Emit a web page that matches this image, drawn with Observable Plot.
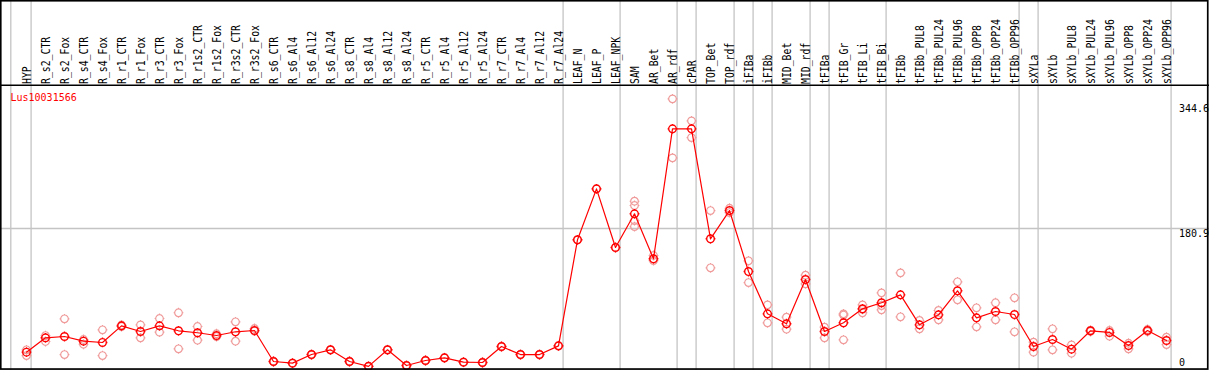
<!DOCTYPE html>
<html><head><meta charset="utf-8">
<script src="https://cdn.jsdelivr.net/npm/d3@7"></script>
<script src="https://cdn.jsdelivr.net/npm/@observablehq/plot@0.6"></script>
<style>
html,body{margin:0;padding:0;background:#fff;}
#chart svg{display:block;background:#fff;}
</style></head><body><div id="chart"></div>
<script>
const geneName = "Lus10031566";

const categories = ["HYP","R_s2_CTR","R_s2_Fox","R_s4_CTR","R_s4_Fox","R_r1_CTR","R_r1_Fox","R_r3_CTR","R_r3_Fox","R_r1s2_CTR","R_r1s2_Fox","R_r3s2_CTR","R_r3s2_Fox",
"R_s6_CTR","R_s6_Al4","R_s6_Al12","R_s6_Al24","R_s8_CTR","R_s8_Al4","R_s8_Al12","R_s8_Al24","R_r5_CTR","R_r5_Al4","R_r5_Al12","R_r5_Al24","R_r7_CTR","R_r7_Al4","R_r7_Al12","R_r7_Al24",
"LEAF_N","LEAF_P","LEAF_NPK","SAM","AR_Bet","AR_rdf","cPAR","TOP_Bet","TOP_rdf","iFIBa","iFIBb","MID_Bet","MID_rdf",
"tFIBa","tFIB_Gr","tFIB_Li","tFIB_Bi","tFIBb","tFIBb_PUL8","tFIBb_PUL24","tFIBb_PUL96","tFIBb_OPP8","tFIBb_OPP24","tFIBb_OPP96",
"sXYLa","sXYLb","sXYLb_PUL8","sXYLb_PUL24","sXYLb_PUL96","sXYLb_OPP8","sXYLb_OPP24","sXYLb_OPP96"];

const means = [18.9,37.7,39.4,33.3,31.6,53.4,46.0,53.4,46.9,44.3,40.7,45.6,47.3,
6.7,4.5,15.8,22.0,6.7,0.3,22.0,1.4,8.0,11.5,5.8,5.4,26.3,15.8,15.8,27.2,
166.1,232.8,156.0,200.1,141.2,311.4,311.4,167.4,204.4,124.5,69.1,56.1,114.1,
46.0,57.4,75.7,83.6,94.0,54.7,67.8,99.3,63.9,72.2,68.2,
26.3,35.5,22.8,46.9,44.7,27.6,47.3,34.2];

const replicates = [[22.0,14.5],[40.7,32.9],[62.6,15.8],[35.5,29.3],[48.2,14.5],[54.5,52.5],[54.7,37.7],[63.0,45.1],[70.5,23.3],[52.5,34.6],[43.0,39.4],[58.7,33.3],[49.9,46.6],
[7.0,6.4],[4.8,4.2],[16.1,15.5],[22.3,21.7],[7.0,6.4],[0.5,0.1],[22.3,21.7],[1.7,1.1],[8.3,7.7],[11.8,11.2],[6.1,5.5],[5.7,5.1],[26.6,26.0],[16.1,15.5],[16.1,15.5],[27.5,26.9],
[166.1],[232.8],[156.0],[216.6,211.0,191.3,183.4],[145.5,138.9],[350.7,273.4],[321.9,300.0],[204.4,129.4],[207.4,201.8],[138.6,110.1],[80.9,57.4],[64.7,49.0],[119.7,108.4],
[51.6,37.7],[69.1,67.5,35.1],[80.9,75.0,70.5],[96.6,80.0,74.4],[122.8,65.2],[60.4,49.5],[73.5,61.3],[111.1,87.5],[77.0,52.1],[83.6,61.3],[90.1,45.6],
[32.0,18.9],[49.5,22.0],[28.5,17.5],[47.9,46.0],[47.3,39.8],[30.6,23.3],[48.6,46.0],[38.5,28.9]];

// group separators: a line after each of these categories, and one before the first
const separatorsAfter = ["HYP","R_r7_Al24","LEAF_NPK","AR_rdf","cPAR","TOP_rdf","iFIBa","iFIBb","MID_rdf","tFIBa","tFIB_Bi","tFIBb_OPP96","sXYLa","sXYLb_OPP96"];
const separatorsBefore = ["HYP"];

const yTicks = [0, 180.9, 344.6];
const yTickLabels = ["0", "180.9", "344.6"];
const yGrid = [180.9];

const meanData = categories.map((c, i) => ({cat: c, value: means[i]}));
const repData = categories.flatMap((c, i) => replicates[i].map(v => ({cat: c, value: v})));
const tickData = yTicks.map((v, i) => ({value: v, label: yTickLabels[i]}));

const sight = {
  draw(ctx, size) {
    const r = Math.sqrt(size / Math.PI), t = 1.1;
    ctx.moveTo(r, 0); ctx.arc(0, 0, r, 0, 2 * Math.PI);
    ctx.moveTo(0, -r); ctx.lineTo(0, -r - t);
    ctx.moveTo(0, r); ctx.lineTo(0, r + t);
    ctx.moveTo(-r, 0); ctx.lineTo(-r - t, 0);
    ctx.moveTo(r, 0); ctx.lineTo(r + t, 0);
  }
};

const mono = "DejaVu Sans Mono";
const W = 1209, H = 370;

const svg = Plot.plot({
  width: W, height: H,
  marginTop: 0, marginBottom: 0, marginLeft: 0, marginRight: 0,
  style: {background: "#fff", overflow: "visible"},
  x: {type: "point", domain: categories, range: [26, 1166], padding: 0, axis: null},
  y: {type: "linear", domain: [0, 344.6], range: [366.1, 103], axis: null},
  marks: [
    Plot.ruleY(yGrid, {stroke: "#c4c4c4", strokeWidth: 1.3}),
    Plot.ruleX(separatorsAfter, {x: d => d, dx: 4.6, stroke: "#c4c4c4", strokeWidth: 1.3}),
    Plot.ruleX(separatorsBefore, {x: d => d, dx: -15.7, stroke: "#c4c4c4", strokeWidth: 1.3}),
    Plot.dot(repData, {x: "cat", y: "value", r: 3.8, symbol: sight, stroke: "#f09a9a", fill: "none", strokeWidth: 1.2}),
    Plot.line(meanData, {x: "cat", y: "value", stroke: "#ff0000", strokeWidth: 1.2}),
    Plot.dot(meanData, {x: "cat", y: "value", r: 3.8, symbol: sight, stroke: "#ff0000", fill: "none", strokeWidth: 1.4}),
    Plot.text(categories, {x: d => d, frameAnchor: "top", dx: 0.8, dy: 83.5, rotate: -90, textAnchor: "start", lineAnchor: "middle",
      fontSize: 12, fontFamily: mono, fill: "#000"}),
    Plot.text(tickData.filter(d => d.value !== 0), {y: "value", text: "label", frameAnchor: "right", dx: -30.5, dy: 1,
      textAnchor: "start", lineAnchor: "top", fontSize: 10, fontFamily: mono, fill: "#000"}),
    Plot.text(tickData.filter(d => d.value === 0), {y: "value", text: "label", frameAnchor: "right", dx: -30.5, dy: -1,
      textAnchor: "start", lineAnchor: "bottom", fontSize: 10, fontFamily: mono, fill: "#000"}),
    Plot.text([geneName], {frameAnchor: "top-left", dx: 10, dy: 93, textAnchor: "start", lineAnchor: "top",
      fontSize: 10, fontFamily: mono, fill: "#ff0000"})
  ]
});

// compress category labels to the narrow pixel-font advance
const catSet = new Set(categories);
d3.select(svg).selectAll("text").each(function() {
  const t = this.textContent;
  if (catSet.has(t)) {
    this.setAttribute("textLength", (t.length * 5.9).toFixed(1));
    this.setAttribute("lengthAdjust", "spacingAndGlyphs");
  }
});

// outer frame and label separator line
const s = d3.select(svg);
s.append("line").attr("x1", 0).attr("x2", W).attr("y1", 85.3).attr("y2", 85.3)
  .attr("stroke", "#000").attr("stroke-width", 1.5);
s.append("rect").attr("x", 0.75).attr("y", 0.75).attr("width", 1207).attr("height", 368.3)
  .attr("fill", "none").attr("stroke", "#000").attr("stroke-width", 1.7);

document.getElementById("chart").appendChild(svg);
</script>
</body></html>
